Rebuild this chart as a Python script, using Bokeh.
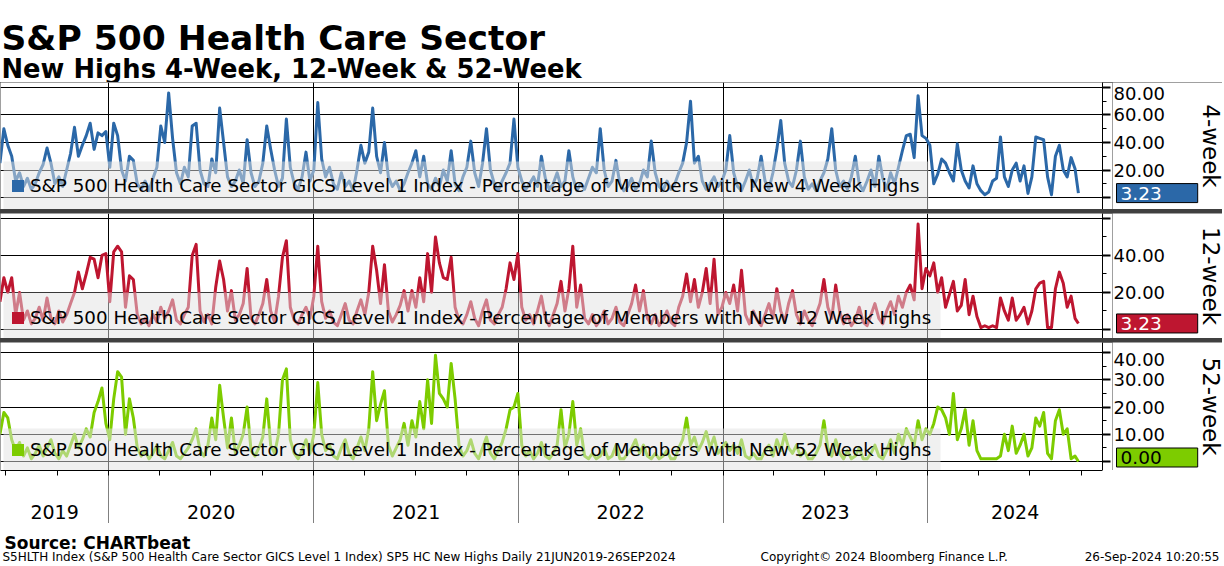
import math
import pandas as pd
from bokeh.plotting import figure
from bokeh.layouts import column, row
from bokeh.models import (Range1d, FixedTicker, Grid, ColumnDataSource, Legend,
                          LegendItem, Label, BoxAnnotation, CustomJSTickFormatter)
from bokeh.core.properties import value
from bokeh.embed import file_html
from bokeh.resources import INLINE

# ---------------- data (weekly readings) ----------------
dates = pd.date_range("2019-06-21", periods=275, freq="7D").append(pd.DatetimeIndex(["2024-09-26"]))

wk4 = [25, 50, 38, 30, 12, 18, 8, 14, 6, 10,
       18, 24, 36, 25, 10, 15, 8, 20, 32, 51,
       30, 38, 45, 54, 35, 47, 45, 48, 22, 54,
       45, 20, 12, 30, 27, 10, 6, 12, 5, 14,
       22, 52, 40, 76, 43, 18, 10, 22, 15, 52,
       54, 20, 10, 8, 28, 18, 65, 40, 15, 8,
       12, 20, 10, 42, 18, 8, 12, 25, 52, 35,
       20, 8, 14, 57, 22, 10, 6, 15, 33, 12,
       20, 69, 28, 15, 22, 10, 6, 18, 8, 12,
       5, 20, 38, 25, 33, 65, 30, 18, 40, 15,
       8, 12, 5, 10, 18, 25, 34, 15, 30, 10,
       6, 14, 8, 20, 12, 34, 10, 5, 15, 22,
       41, 18, 8, 25, 50, 20, 10, 5, 12, 18,
       25, 57, 22, 12, 6, 10, 15, 8, 30, 14,
       6, 10, 18, 8, 12, 34, 15, 5, 10, 6,
       14, 22, 18, 50, 20, 8, 12, 27, 10, 5,
       8, 14, 6, 10, 20, 15, 41, 18, 8, 5,
       12, 6, 10, 18, 25, 40, 70, 25, 30, 12,
       6, 10, 15, 8, 12, 20, 45, 18, 8, 5,
       12, 20, 8, 14, 30, 12, 6, 18, 35, 56,
       25, 12, 8, 20, 41, 15, 6, 10, 5, 12,
       18, 28, 50, 20, 8, 12, 6, 15, 30, 10,
       5, 12, 20, 8, 30, 14, 6, 18, 10, 22,
       34, 45, 46, 29, 74, 45, 43, 38, 10, 17,
       28, 25, 18, 12, 39, 20, 12, 7, 23, 10,
       5, 2, 4, 12, 14, 44, 15, 8, 20, 25,
       12, 23, 3, 15, 44, 43, 42, 15, 2, 30,
       38, 20, 15, 29, 21, 3.23]

wk12 = [15, 28, 20, 28, 8, 20, 5, 10, 3, 6,
        12, 5, 17, 6, 3, 10, 4, 8, 14, 20,
        31, 22, 30, 39, 38, 28, 40, 41, 15, 42,
        45, 42, 12, 29, 27, 8, 3, 6, 2, 8,
        4, 12, 6, 10, 16, 5, 3, 8, 12, 40,
        46, 10, 4, 8, 3, 23, 37, 27, 10, 21,
        5, 8, 14, 33, 6, 3, 8, 14, 27, 10,
        4, 18, 39, 48, 12, 5, 3, 8, 12, 6,
        18, 45, 15, 6, 10, 4, 2, 8, 14, 5,
        3, 10, 16, 8, 20, 45, 32, 14, 35, 10,
        4, 8, 13, 21, 10, 21, 12, 28, 15, 41,
        20, 50, 36, 28, 27, 39, 12, 5, 3, 8,
        15, 6, 2, 10, 16, 5, 3, 8, 12, 22,
        36, 27, 41, 12, 5, 8, 3, 10, 18, 6,
        2, 8, 14, 26, 10, 22, 45, 12, 24, 6,
        3, 8, 2, 5, 10, 3, 6, 12, 4, 2,
        8, 14, 24, 10, 21, 6, 3, 8, 2, 5,
        10, 4, 2, 12, 18, 30, 15, 27, 12, 20,
        33, 14, 38, 8, 12, 20, 14, 24, 10, 32,
        8, 3, 10, 5, 2, 8, 14, 6, 22, 10,
        4, 14, 21, 8, 3, 10, 5, 2, 8, 14,
        27, 12, 6, 24, 10, 3, 8, 2, 5, 12,
        4, 2, 8, 14, 6, 3, 10, 15, 8, 18,
        12, 20, 24, 16, 57, 22, 33, 29, 36, 20,
        28, 12, 19, 26, 10, 13, 27, 8, 18, 7,
        1, 2, 1, 2, 1, 17, 10, 5, 17, 5,
        8, 12, 3, 10, 22, 25, 26, 1, 1, 22,
        31, 25, 12, 18, 6, 3.23]

wk52 = [10, 18, 16, 8, 4, 7, 2, 5, 1, 3,
        6, 2, 5, 8, 3, 1, 4, 2, 6, 10,
        5, 8, 12, 9, 18, 22, 27, 14, 8, 23,
        33, 31, 10, 23, 16, 5, 2, 4, 1, 3,
        6, 2, 1, 4, 7, 2, 1, 3, 5, 8,
        12, 4, 2, 6, 16, 8, 28, 16, 5, 16,
        3, 6, 10, 20, 4, 2, 5, 9, 23, 6,
        3, 10, 30, 34, 8, 3, 1, 4, 8, 3,
        10, 29, 10, 4, 6, 2, 1, 5, 8, 3,
        1, 5, 9, 4, 12, 33, 15, 21, 26, 6,
        2, 5, 8, 14, 6, 15, 9, 22, 12, 30,
        14, 39, 25, 23, 20, 36, 23, 6, 2, 4,
        8, 3, 1, 5, 9, 3, 1, 4, 7, 12,
        19, 20, 25, 6, 2, 4, 1, 3, 7, 2,
        1, 3, 6, 19, 5, 10, 22, 6, 12, 2,
        1, 3, 1, 2, 5, 1, 2, 6, 1, 1,
        3, 5, 8, 3, 6, 2, 1, 3, 1, 2,
        4, 1, 1, 5, 8, 16, 6, 9, 4, 7,
        11, 5, 9, 3, 5, 7, 4, 6, 3, 8,
        2, 1, 3, 1, 1, 4, 6, 2, 8, 4,
        10, 5, 3, 6, 2, 4, 1, 1, 3, 6,
        15, 5, 2, 8, 3, 1, 4, 1, 2, 5,
        1, 1, 3, 6, 2, 1, 4, 8, 3, 10,
        6, 12, 9, 6, 15, 8, 12, 10, 14, 20,
        19, 16, 10, 25, 8, 12, 19, 6, 15, 4,
        1, 1, 1, 1, 1, 2, 10, 4, 13, 3,
        6, 10, 2, 5, 16, 13, 18, 3, 1, 15,
        19, 10, 12, 1, 2, 0]

years = ["2019", "2020", "2021", "2022", "2023", "2024"]
# tick values: labelled ticks / all major ticks (grid) / minor ticks
lab4, grid4, minor4 = [20, 40, 60, 80], [0, 20, 40, 60, 80], [10, 30, 50, 70]
lab12, grid12, minor12 = [20, 40], [0, 20, 40, 60], [10, 30, 50]
lab52, grid52, minor52 = [10, 20, 30, 40], [0, 10, 20, 30, 40], [5, 15, 25, 35]

legend_base = "S&P 500 Health Care Sector GICS Level 1 Index - Percentage of Members with New "
title_text = "S&P 500 Health Care Sector"
subtitle_text = "New Highs 4-Week, 12-Week & 52-Week"
source_text = "Source: CHARTbeat"
foot_left = "S5HLTH Index (S&P 500 Health Care Sector GICS Level 1 Index) SP5 HC New Highs  Daily 21JUN2019-26SEP2024"
foot_mid = "Copyright\u00a9 2024 Bloomberg Finance L.P."
foot_right = "26-Sep-2024 10:20:55"

# ---------------- layout constants ----------------
FONT = "DejaVu Sans"
FW = 1102          # data frame width
AXB = 10           # right axis (ticks only) border
SW = 110           # side figure (labels / value box)
TOTAL = FW + AXB + SW
x_start = pd.Timestamp("2019-06-22")
x_end = pd.Timestamp("2024-11-08")
xr = Range1d(x_start, x_end)
NAN = float("nan")

BLANK = CustomJSTickFormatter(code="return ''")


def ms(t):
    return pd.Timestamp(t).value / 1e6


year_starts = [ms(f"{y}-01-01") for y in years[1:]]
quarters = [ms(t) for t in pd.date_range("2019-07-01", "2024-10-01", freq="QS")]


def plain_fig(fw, fh, **kw):
    return figure(frame_width=fw, frame_height=fh, toolbar_location=None,
                  output_backend="svg", min_border_left=0, min_border_right=0,
                  min_border_top=0, min_border_bottom=0, outline_line_color=None,
                  background_fill_color="white", border_fill_color="white", **kw)


def panel(series, color, yr, labs, grid_t, minor_t, name, ylabel, txt_color, fh,
          box_right, box_top, leg_y, val_off):
    yrange = Range1d(*yr)
    p = plain_fig(FW, fh, x_range=xr, y_range=yrange, x_axis_type="datetime",
                  x_axis_location=None, y_axis_location="right")
    p.min_border_right = AXB
    p.grid.grid_line_color = None
    p.add_layout(Grid(dimension=0, ticker=FixedTicker(ticks=year_starts),
                      grid_line_color="black", grid_line_width=1))
    p.add_layout(Grid(dimension=1, ticker=FixedTicker(ticks=grid_t),
                      grid_line_color="black", grid_line_width=1))
    src = ColumnDataSource(dict(d=dates, v=series))
    p.line("d", "v", source=src, line_color=color, line_width=3, line_join="round")
    # translucent legend panel (washes out the lines behind it)
    p.add_layout(BoxAnnotation(left=3, right=box_right, bottom=0, top=box_top,
                               left_units="screen", right_units="screen",
                               bottom_units="screen", top_units="screen",
                               fill_color="#e1e1e1", fill_alpha=0.5, line_color=None,
                               level="overlay"))
    sw = p.quad(left=[NAN], right=[NAN], top=[NAN], bottom=[NAN],
                fill_color=color, line_color=None)
    leg = Legend(items=[LegendItem(label=legend_base + name, renderers=[sw])],
                 location=(10, leg_y), margin=0, padding=0, spacing=0,
                 background_fill_alpha=0, border_line_color=None,
                 label_text_font=FONT, label_text_font_size="18.3px",
                 label_text_color="black", label_height=20,
                 glyph_width=15, glyph_height=15, label_standoff=5)
    p.add_layout(leg, "center")
    ax = p.yaxis[0]
    ax.ticker = FixedTicker(ticks=grid_t, minor_ticks=minor_t)
    ax.formatter = BLANK
    ax.major_label_standoff = 0
    ax.major_tick_out = 8
    ax.major_tick_in = 0
    ax.major_tick_line_width = 2
    ax.minor_tick_out = 4
    ax.minor_tick_in = 0
    ax.axis_line_color = "black"

    # side strip: tick labels, last-value box, rotated panel name
    s = plain_fig(SW, fh, x_range=Range1d(0, SW), y_range=yrange,
                  x_axis_location=None, y_axis_location=None)
    s.grid.grid_line_color = None
    top = max(labs)
    s.text(x=[1] * len(labs), y=labs, text=[f"{t:.2f}" for t in labs],
           text_font=value(FONT), text_font_size="18px", text_color="black",
           text_align="left",
           text_baseline=["top" if (t == top and t == grid_t[-1]) else "middle" for t in labs])
    last = series[-1]
    s.add_layout(Label(x=4, y=last, x_units="screen", y_units="data", y_offset=val_off,
                       text=f"{last:.2f}", text_font=FONT, text_font_size="18.5px",
                       text_color=txt_color, text_baseline="middle", text_align="left",
                       background_fill_color=color, border_line_color="black",
                       border_line_width=1,
                       padding=dict(left=4, right=36, top=3, bottom=3)))
    s.text(x=[98], y=[(yr[0] + yr[1]) / 2], text=[ylabel], angle=-math.pi / 2,
           text_font=value(FONT), text_font_size="23px", text_color="black",
           text_align="center", text_baseline="middle")
    return row(p, s, spacing=0)


BLUE, RED, GREEN = "#2b68a8", "#be1630", "#7dcc00"

r1 = panel(wk4, BLUE, (-8.7, 83.6), lab4, grid4, minor4,
           "4 Week Highs", "4-week", "white", 127, 928, 48, 13, 0)
r2 = panel(wk12, RED, (-4.9, 62.7), lab12, grid12, minor12,
           "12 Week Highs", "12-week", "white", 125, 940, 46, 10, 0)
r3 = panel(wk52, GREEN, (-3.3, 43.7), lab52, grid52, minor52,
           "52 Week Highs", "52-week", "black", 128, 940, 42, 10, 4)

# header
hdr = plain_fig(TOTAL, 82, x_range=Range1d(0, 1), y_range=Range1d(0, 1),
                x_axis_location=None, y_axis_location=None)
hdr.grid.grid_line_color = None
hdr.add_layout(Label(x=1, y=45, x_units="screen", y_units="screen", text=title_text,
                     text_font=FONT, text_font_size="34.5px", text_font_style="bold",
                     text_color="black", text_baseline="alphabetic"))
hdr.add_layout(Label(x=1, y=14, x_units="screen", y_units="screen", text=subtitle_text,
                     text_font=FONT, text_font_size="25.8px", text_font_style="bold",
                     text_color="black", text_baseline="alphabetic"))

# x-axis strip
strip = plain_fig(FW, 53, x_range=xr, y_range=Range1d(0, 1), x_axis_type="datetime",
                  x_axis_location="above", y_axis_location=None)
strip.min_border_right = TOTAL - FW
strip.grid.grid_line_color = None
strip.add_layout(Grid(dimension=0, ticker=FixedTicker(ticks=year_starts),
                      grid_line_color="#808080", grid_line_width=1))
xa = strip.xaxis[0]
xa.ticker = FixedTicker(ticks=quarters)
xa.formatter = BLANK
xa.major_tick_in = 5
xa.major_tick_out = 0
xa.minor_tick_in = 0
xa.minor_tick_out = 0
xa.major_label_standoff = 0
xa.axis_line_color = "black"
bounds = [x_start] + [pd.Timestamp(f"{y}-01-01") for y in years[1:]] + [x_end]
mids = [bounds[i] + (bounds[i + 1] - bounds[i]) / 2 for i in range(len(years))]
strip.text(x=mids, y=[0.21] * len(years), text=years, text_font=value(FONT),
           text_font_size="19px", text_align="center", text_baseline="middle",
           text_color="black")

# footer
ftr = plain_fig(TOTAL, 42, x_range=Range1d(0, 1), y_range=Range1d(0, 1),
                x_axis_location=None, y_axis_location=None)
ftr.grid.grid_line_color = None
ftr.add_layout(Label(x=4, y=23, x_units="screen", y_units="screen", text=source_text,
                     text_font=FONT, text_font_size="17px", text_font_style="bold",
                     text_color="black", text_baseline="alphabetic"))
for txt, xx, al in [(foot_left, 2, "left"), (foot_mid, 760, "left"), (foot_right, TOTAL - 3, "right")]:
    ftr.add_layout(Label(x=xx, y=9, x_units="screen", y_units="screen", text=txt,
                         text_font=FONT, text_font_size="12px", text_align=al,
                         text_color="black", text_baseline="alphabetic"))

panels = column(r1, r2, r3, spacing=4, styles={"background-color": "#404040"})
page = column(hdr, panels, strip, ftr, spacing=0)

open("out.html", "w").write(file_html(page, INLINE))
